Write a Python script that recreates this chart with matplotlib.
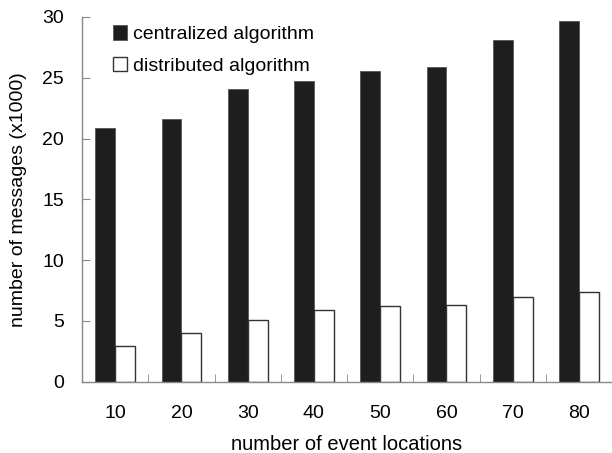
import numpy as np
import matplotlib
matplotlib.use("Agg")
import matplotlib.pyplot as plt

plt.rcParams['font.family'] = ['Liberation Sans', 'DejaVu Sans']

# dados
locais = [10, 20, 30, 40, 50, 60, 70, 80]
centralizado = [20.85, 21.6, 24.05, 24.75, 25.55, 25.85, 28.1, 29.7]
distribuido = [2.9, 4.0, 5.05, 5.9, 6.2, 6.35, 7.0, 7.4]

fig = plt.figure(figsize=(6.12, 4.53), dpi=100)
ax = fig.add_axes([0.134, 0.1574, 0.866, 0.8051])

x = np.arange(len(locais))
w = 0.3
ax.bar(x - w / 2, centralizado, w, color='#1e1e1e', edgecolor='#555555', linewidth=0.6,
       label='centralized algorithm')
ax.bar(x + w / 2, distribuido, w, color='white', edgecolor='#333333', linewidth=1.0,
       label='distributed algorithm')

ax.set_xlim(-0.5, len(locais) - 0.5)
ax.set_ylim(0, 30)
ax.set_yticks([0, 5, 10, 15, 20, 25, 30])
ax.tick_params(axis='y', direction='in', length=6, color='#888888', labelsize=14, pad=13)

# ticks do eixo x entre os grupos, rotulos no centro
ax.set_xticks(x + 0.5, minor=True)
ax.set_xticks(x)
ax.set_xticklabels([str(v) for v in locais])
ax.tick_params(axis='x', which='major', length=0, labelsize=14, pad=17)
ax.tick_params(axis='x', which='minor', direction='in', length=6, color='#888888')

for s in ['top', 'right']:
    ax.spines[s].set_visible(False)
for s in ['left', 'bottom']:
    ax.spines[s].set_color('#888888')
    ax.spines[s].set_linewidth(1.0)

ax.set_xlabel('number of event locations', fontsize=14.5, labelpad=9)
ax.set_ylabel('number of messages (x1000)', fontsize=14, labelpad=11)

ax.legend(loc='upper left', bbox_to_anchor=(0.025, 1.025), frameon=False, fontsize=14,
          handlelength=0.75, handleheight=0.75, handletextpad=0.3, labelspacing=0.7)

fig.savefig('out.png', dpi=100)
